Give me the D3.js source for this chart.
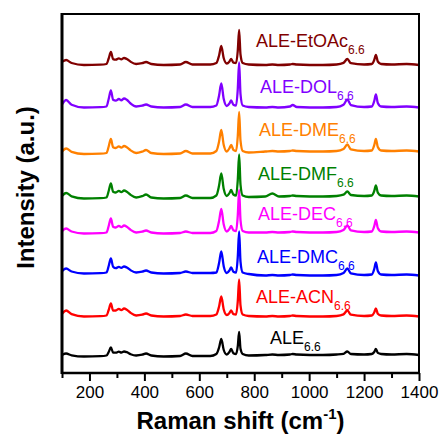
<!DOCTYPE html>
<html><head><meta charset="utf-8">
<script src="https://cdn.jsdelivr.net/npm/d3@7"></script>
<style>body{margin:0;background:#fff}svg{display:block}text{font-family:Arial,"Liberation Sans",sans-serif}</style>
</head><body>
<script>
const shifts = [100,115,135,180,240,262,270,278,286,296,307,316,326,336,350,370,392,406,425,470,530,551,575,640,662,672,680,689,700,710,716,724,734,740,745,750,758,780,840,866,890,930,940,955,1050,1100,1125,1139,1152,1200,1228,1237,1243,1250,1262,1300,1355,1400];

const seriesNames = ["ALE","ALE-ACN","ALE-DMC","ALE-DEC","ALE-DMF","ALE-DME","ALE-DOL","ALE-EtOAc"];
const seriesColors = ["#000000","#ff0000","#0000ff","#ff00ff","#008000","#ff8000","#8000ff","#800000"];
const subscriptLabel = "6.6";

const ALE = [18,19.5,17.7,16.5,16.8,17.5,21,25.5,20.5,20.3,21.3,20.5,21.5,20.8,18.8,17.5,18.3,19.5,17.5,16.5,17,19.5,17,17,
 19,25.5,34,23,18.5,21.2,24,19.8,19,26.6,41,24.2,19,17.5,
 18,18.5,18,18.5,19,18.5,18,18.5,19.2,21.5,19,18.5,19,21,24,20.1,19,18.5,19,18];
const ACN = [59.2,62.5,58.9,56.5,56.8,57.5,63,69.5,62.4,62.5,64.1,62.9,64.5,63.3,60.1,57.5,58.3,59.5,57.5,56.5,57,58.5,57,57,
 58.5,66.5,76.5,63.5,58,60.1,62.5,58.9,58.5,71.3,93.5,67.6,58.5,57,
 56.5,57,56.5,57,57.5,57,56.5,57,58.6,62.5,58.3,57,57.5,60.5,64.5,59.3,57.5,57,57.5,56.5];
const DMC = [101.8,104.5,101.5,99.5,99.8,100.5,107,114.5,106.3,104.8,106.2,105.1,106.5,105.5,102.7,100.5,101.3,102.5,100.5,99.5,100,101.5,100,100,
 100.5,110,121.5,106.6,100,102.7,105.5,101.3,100.5,115.7,141.5,111.4,100.5,99,
 97.5,98,97.5,98,98.5,98,97.5,98,100,104.5,99.6,98,98.5,104,110.5,102,98.5,98,98.5,97.5];
const DEC = [141.8,144.5,141.5,139.5,139.8,140.5,147,154.5,146.3,145.5,147.1,145.9,147.5,146.3,143.1,140.5,141.3,142.5,140.5,139.5,140,141.5,140,140,
 142,152,164,148.4,141.5,144.2,147,142.8,142,157.2,183,152.9,142,140.5,
 140.5,141,140.5,141,141.5,141,140.5,141,143,147.5,142.6,141,141.5,146.8,153,144.9,141.5,141,141.5,140.5];
const DMF = [177,180,176.7,174.5,174.8,175.5,182,189.5,181.3,180.5,182.1,180.9,182.5,181.3,178.1,175.5,176.9,178.5,175.5,174.5,175,177.5,175,175,
 177.5,187.5,199.5,183.9,177,180,183,178.5,177.5,192.7,218.5,188.4,177.5,176,
 176.5,179.5,176.5,177,177.5,177,176.5,177,178.3,181.5,178,177,177.5,182,187.5,180.4,177.5,177,177.5,176.5];
const DME = [221.5,224.5,221.2,219,219.3,220,226.5,234,225.8,225,226.6,225.4,227,225.8,222.6,220,221.4,223,220,219,219.5,222,219.5,219.5,
 222,231.5,243,228,221.5,224.8,228,223.2,222,236.4,261,232.3,222,220.5,
 221.5,222,221.5,222,222.5,222,221.5,222,224,228.5,223.6,222,222.5,227.8,234,225.9,222.5,222,222.5,221.5];
const DOL = [268.5,273,268.3,265.5,265.8,266.5,274,282.5,273.2,272.3,274,272.7,274.5,273.2,269.5,266.5,267.3,268.5,266.5,265.5,266,268.5,266,266,
 267.5,277.5,289.5,273.9,267,269.7,272.5,268.3,267.5,283.5,310.5,279,267.5,266,
 265.5,266,265.5,266.5,268,266,265.5,266,268.3,273.5,267.9,266,266.5,272,278.5,270,266.5,266,266.5,265.5];
const EtOAc = [311.3,313,310,308,308.3,309,314.5,321,313.9,313.3,314.7,313.6,315,314,311.2,309,309.8,311,309,308,308.5,311,308.5,308.5,
 310,317.5,327,314.7,309.5,311.6,314,310.4,310,322,343,318.5,310,308.5,
 308,308.5,308,308.5,309,308.5,308,308.5,310.1,314,309.8,308.5,309,313,318,311.5,309,308.5,309,308];

const seriesValues = [ALE, ACN, DMC, DEC, DMF, DME, DOL, EtOAc];
const xTicksMajor = [200,400,600,800,1000,1200,1400];
const xTicksMinor = [100,300,500,700,900,1100,1300];

const W = 443, H = 439;
const m = {left: 62, right: 24, top: 14, bottom: 66};
const pw = W - m.left - m.right, ph = H - m.top - m.bottom;

const svg = d3.select("body").append("svg").attr("width", W).attr("height", H);
const x = d3.scaleLinear().domain([100, 1400]).range([m.left, m.left + pw]);
const y = d3.scaleLinear().domain([0, 359]).range([m.top + ph, m.top]);

const line = d3.line().x((d, i) => x(shifts[i])).y(d => y(d)).curve(d3.curveMonotoneX);

svg.append("defs").append("clipPath").attr("id", "clip")
  .append("rect").attr("x", m.left).attr("y", m.top).attr("width", pw).attr("height", ph);

const g = svg.append("g").attr("clip-path", "url(#clip)");
seriesValues.forEach((vals, k) => {
  g.append("path").attr("d", line(vals)).attr("fill", "none")
    .attr("stroke", seriesColors[k]).attr("stroke-width", 2.3)
    .attr("stroke-linejoin", "round");
});

// frame
svg.append("rect").attr("x", m.left).attr("y", m.top).attr("width", pw).attr("height", ph)
  .attr("fill", "none").attr("stroke", "#000").attr("stroke-width", 2);
svg.append("line").attr("x1", m.left).attr("x2", m.left).attr("y1", m.top - 1).attr("y2", m.top + ph + 1)
  .attr("stroke", "#000").attr("stroke-width", 3);

// bottom axis
const axMajor = d3.axisBottom(x).tickValues(xTicksMajor).tickSize(8).tickFormat(d3.format("d"));
const gx = svg.append("g").attr("transform", `translate(0,${m.top + ph})`).call(axMajor);
gx.select(".domain").remove();
gx.selectAll(".tick line").attr("stroke-width", 2);
gx.selectAll(".tick text").attr("font-size", 17).attr("font-family", "Arial, 'Liberation Sans', sans-serif").attr("dy", "0.85em").attr("fill", "#000");
const axMinor = d3.axisBottom(x).tickValues(xTicksMinor).tickSize(5).tickFormat("");
const gxm = svg.append("g").attr("transform", `translate(0,${m.top + ph})`).call(axMinor);
gxm.select(".domain").remove();
gxm.selectAll(".tick line").attr("stroke-width", 2);
svg.append("line").attr("x1", m.left).attr("x2", m.left + pw).attr("y1", m.top + ph).attr("y2", m.top + ph)
  .attr("stroke", "#000").attr("stroke-width", 2.5);

// axis titles
const xt = svg.append("text").attr("x", m.left + pw / 2).attr("y", 429).attr("text-anchor", "middle")
  .attr("font-size", 24).attr("font-weight", "bold");
xt.append("tspan").text("Raman shift (cm");
xt.append("tspan").attr("font-size", 15).attr("dy", -10).text("-1");
xt.append("tspan").attr("dy", 10).text(")");

svg.append("text").attr("transform", `translate(34,${m.top + ph / 2 - 6}) rotate(-90)`)
  .attr("text-anchor", "middle").attr("font-size", 24).attr("font-weight", "bold").text("Intensity (a.u.)");

// labels
const labelX = [270, 256, 257, 258, 258, 259, 260, 256];
const labelY = [344, 303, 263, 220, 180, 136, 93, 47];
seriesNames.forEach((n, k) => {
  const t = svg.append("text").attr("x", labelX[k]).attr("y", labelY[k]).attr("fill", seriesColors[k]).attr("font-size", 18);
  t.append("tspan").text(n);
  t.append("tspan").attr("font-size", 12).attr("dy", 6.5).text(subscriptLabel);
});
</script>
</body></html>
